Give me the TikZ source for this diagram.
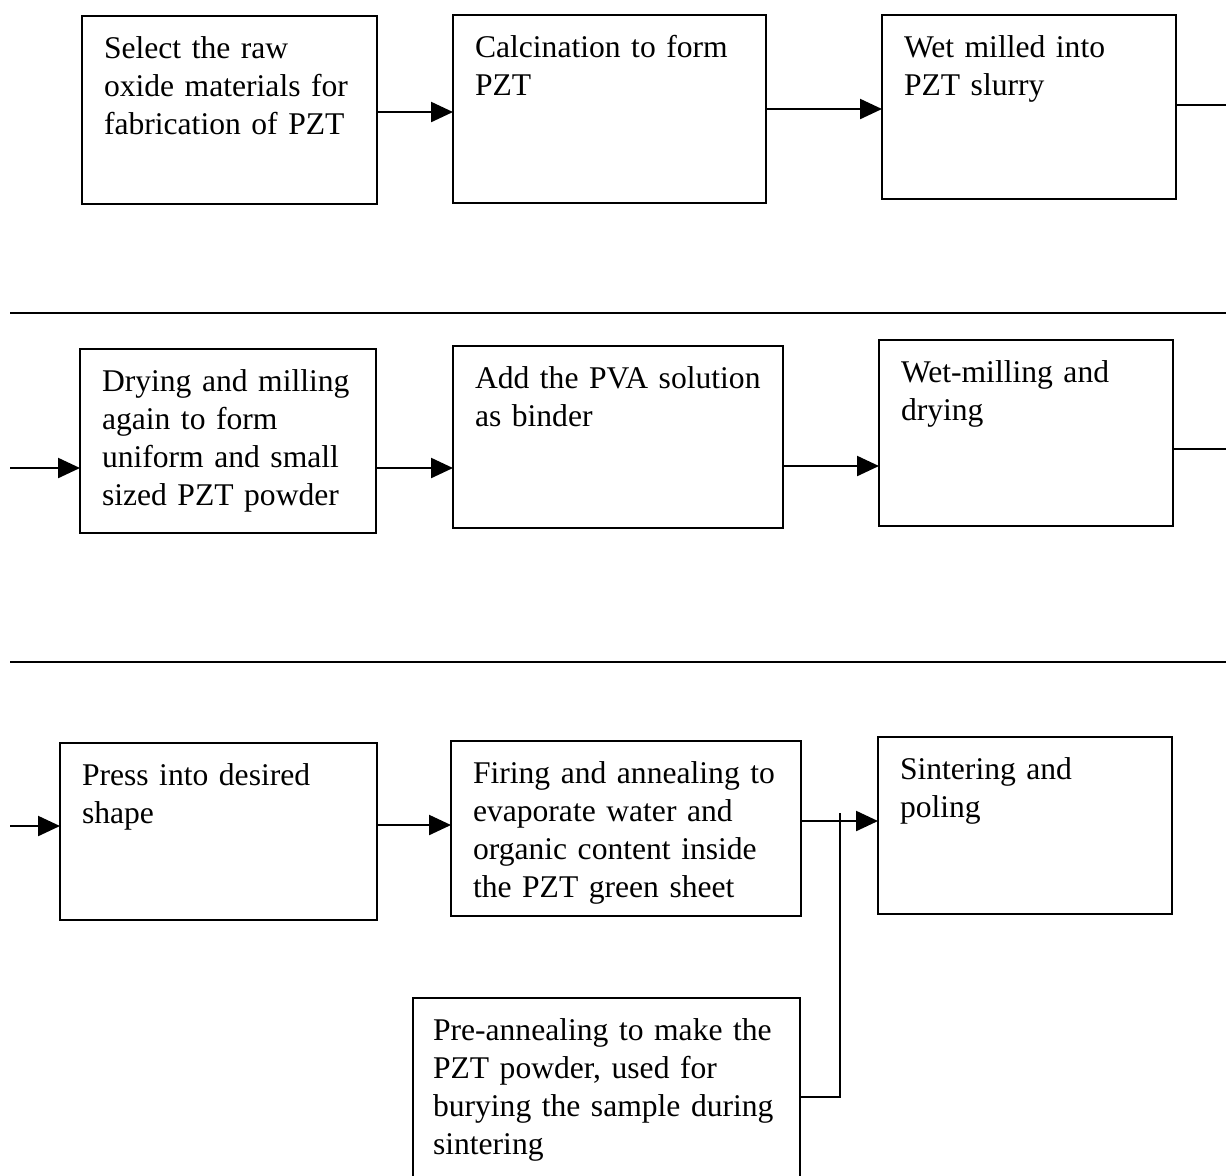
\documentclass[tikz,border=0pt]{standalone}
\usepackage{fontspec}
\setmainfont{Liberation Serif}
\usetikzlibrary{positioning,arrows.meta}
\hyphenpenalty=10000

\begin{document}
\begin{tikzpicture}[x=0.5pt, y=-0.5pt,
                    block/.style={rectangle, draw, line width=1.15pt, outer sep=0pt, anchor=north west,
                                  inner xsep=11pt, inner ysep=0pt, align=left, text height=21pt,
                                  font=\fontsize{15.8}{19}\selectfont},
                    flow/.style={-{Triangle[length=11pt, width=10pt]}, line width=1.15pt},
                    rule/.style={line width=1.15pt}]
  \useasboundingbox (0,0) rectangle (1226,1175);
  \clip (0,0) rectangle (1226,1175);
  % first row
  \node[block, text width=125.5pt, text depth=73pt] at (82,16) (select) {Select the raw\\oxide materials for\\fabrication of PZT};
  \node[block, text width=134.5pt, text depth=73pt, right=38pt of select.north east, anchor=north west, yshift=0.5pt] (calcine) {Calcination to form\\PZT};
  \node[block, text width=125pt, text depth=71pt, right=58pt of calcine.north east, anchor=north west] (wet) {Wet milled into\\PZT slurry};
  \coordinate (out1) at (1226,105);
  \draw[flow] (select.east |- 0,112) -- (calcine.west |- 0,112);
  \draw[flow] (calcine.east |- 0,109) -- (wet.west |- 0,109);
  \draw[rule] (wet.east |- out1) -- (out1);
  \draw[rule] (10,313) -- (1226,313);
  % second row
  \node[block, text width=126pt, text depth=71pt] at (80,349) (dry) {Drying and milling\\again to form\\uniform and small\\sized PZT powder};
  \node[block, text width=143pt, text depth=70pt, right=38.5pt of dry.north east, anchor=north west, yshift=1.5pt] (binder) {Add the PVA solution\\as binder};
  \node[block, text width=125pt, text depth=72pt, right=48pt of binder.north east, anchor=north west, yshift=3pt] (wetmill) {Wet-milling and\\drying};
  \coordinate (in2) at (10,468);
  \coordinate (out2) at (1226,449);
  \draw[flow] (in2) -- (dry.west |- in2);
  \draw[flow] (dry.east |- 0,468) -- (binder.west |- 0,468);
  \draw[flow] (binder.east |- 0,466) -- (wetmill.west |- 0,466);
  \draw[rule] (wetmill.east |- out2) -- (out2);
  \draw[rule] (10,662) -- (1226,662);
  % third row
  \node[block, text width=136.5pt, text depth=67.5pt] at (60,743) (press) {Press into desired\\shape};
  \node[block, text width=153pt, text depth=66.5pt, right=37pt of press.north east, anchor=north west, yshift=1pt] (firing) {Firing and annealing to\\evaporate water and\\organic content inside\\the PZT green sheet};
  \node[block, text width=125pt, text depth=67.5pt, right=38.5pt of firing.north east, anchor=north west, yshift=2pt] (sinter) {Sintering and\\poling};
  \node[block, inner xsep=10pt, text width=173.5pt, text depth=75pt] at (413,998) (preanneal) {Pre-annealing to make the\\PZT powder, used for\\burying the sample during\\sintering};
  \coordinate (in3) at (10,826);
  \coordinate (join) at (840,813);
  \draw[flow] (in3) -- (press.west |- in3);
  \draw[flow] (press.east |- 0,825) -- (firing.west |- 0,825);
  \draw[flow] (firing.east |- 0,821) -- (sinter.west |- 0,821);
  \draw[rule] (preanneal.east |- 0,1097) -| (join);
\end{tikzpicture}
\end{document}
